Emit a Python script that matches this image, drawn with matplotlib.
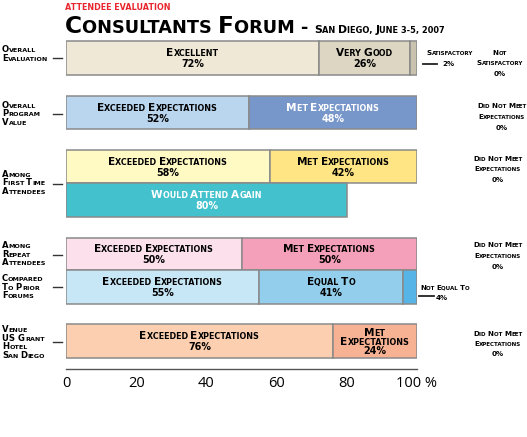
import matplotlib
matplotlib.use('Agg')
import matplotlib.pyplot as plt
from matplotlib.transforms import offset_copy, Affine2D
from matplotlib.lines import Line2D

# ---------------- data ----------------
eval_labels = ['Excellent', 'Very Good', 'Satisfactory', 'Not Satisfactory']
eval_values = [72, 26, 2, 0]
exp_labels = ['Exceeded Expectations', 'Met Expectations', 'Did Not Meet Expectations']
program_values = [52, 48, 0]
first_values = [58, 42, 0]
again_label = 'Would Attend Again'
again_value = 80
repeat_values = [50, 50, 0]
prior_labels = ['Exceeded Expectations', 'Equal To', 'Not Equal To']
prior_values = [55, 41, 4]
venue_values = [76, 24, 0]
row_labels = [['Overall', 'Evaluation'], ['Overall', 'Program', 'Value'],
              ['Among', 'First Time', 'Attendees'], ['Among', 'Repeat', 'Attendees'],
              ['Compared', 'To Prior', 'Forums'], ['Venue', 'US Grant', 'Hotel', 'San Diego']]
x_ticks = [0, 20, 40, 60, 80, 100]
x_ticklabels = ['0', '20', '40', '60', '80', '100 %']

FONT = 'DejaVu Sans'
W, H = 527, 437
fig = plt.figure(figsize=(W / 100, H / 100), dpi=100)
renderer = fig.canvas.get_renderer()
tr_px = Affine2D().scale(1, -1).translate(0, H)   # pixel coords from top-left


def _w(s, size, weight):
    t = fig.text(0, 0, '|' + s + '|', fontsize=size, fontweight=weight, family=FONT)
    w1 = t.get_window_extent(renderer).width
    t.set_text('||')
    w0 = t.get_window_extent(renderer).width
    t.remove()
    return w1 - w0


def _runs(s, small_digits=False):
    runs = []
    for ch in s:
        small = ch.islower() or (small_digits and ch.isdigit())
        if ch in ' ,-' and runs:
            small = runs[-1][1]
        if runs and runs[-1][1] == small:
            runs[-1][0] += ch
        else:
            runs.append([ch, small])
    return runs


def sc_width(s, size, weight='bold', ratio=0.76, small_digits=False):
    tot = 0
    for txt, small in _runs(s, small_digits):
        sz = size * ratio if small else size
        tot += _w(txt.upper(), sz, weight)
    return tot


def calib(s, target, weight='bold', ratio=0.76, small_digits=False):
    return 10 * target / sc_width(s, 10, weight, ratio, small_digits)


def sc_text(x, y, s, size, transform, ha='center', color='black', weight='bold',
            ratio=0.76, dy=0, small_digits=False):
    pieces = []
    for txt, small in _runs(s, small_digits):
        sz = size * ratio if small else size
        pieces.append((txt.upper(), sz, _w(txt.upper(), sz, weight)))
    total = sum(p[2] for p in pieces)
    start = {'center': -total / 2, 'left': 0, 'right': -total}[ha]
    cap = 0.73 * size * 100 / 72
    dx = start
    for txt, sz, w in pieces:
        tr = offset_copy(transform, fig=fig, x=dx, y=dy - cap / 2, units='dots')
        fig.text(x, y, txt, transform=tr, fontsize=sz, fontweight=weight, family=FONT,
                 color=color, ha='left', va='baseline')
        dx += w


def sc_lines(x, y, lines, size, transform, spacing, **kw):
    for i, ln in enumerate(lines):
        sc_text(x, y, ln, size, transform, dy=-i * spacing, **kw)


# calibrated sizes (matching the reference text widths)
BAR_SZ = calib('Exceeded Expectations', 119)
LEFT_SZ = calib('Evaluation', 46)
RIGHT_SZ = calib('Did Not Meet', 49)
PCT_SZ = BAR_SZ * 0.92

# ---------------- axes ----------------
ax = fig.add_axes([66 / W, (H - 369) / H, 351 / W, (369 - 30) / H])
ax.set_xlim(0, 100)
ax.set_ylim(369, 30)
for s in ['top', 'right', 'left']:
    ax.spines[s].set_visible(False)
ax.spines['bottom'].set_color('#555555')
ax.spines['bottom'].set_linewidth(1.0)
ax.set_yticks([])
ax.set_xticks(x_ticks)
ax.set_xticklabels(x_ticklabels, fontsize=10.5, family='Open Sans')
ax.tick_params(axis='x', which='major', length=0, pad=5)
ax.set_xticks([0, 100], minor=True)
ax.tick_params(axis='x', which='minor', length=5, direction='in', color='#555555', width=1.0)

EDGE = '#8a8a8a'


def draw_row(yc, h, values, colors, labels, txtcolors):
    left = 0
    for v, c, lab, tc in zip(values, colors, labels, txtcolors):
        if v <= 0:
            continue
        ax.barh(yc, v, left=left, height=h, color=c, edgecolor=EDGE, linewidth=1.1)
        if lab is not None:
            if isinstance(lab, list):
                sc_lines(left + v / 2, yc - 8.5, lab, BAR_SZ, ax.transData, 9.0, color=tc)
                sc_text(left + v / 2, yc + 9.5, f'{v}%', PCT_SZ, ax.transData, color=tc)
            else:
                sc_text(left + v / 2, yc - 5.5, lab, BAR_SZ, ax.transData, color=tc)
                sc_text(left + v / 2, yc + 5.5, f'{v}%', PCT_SZ, ax.transData, color=tc)
        left += v


# Row 1
draw_row(58, 34, eval_values, ['#efe8d6', '#dcd6c3', '#c9c2ae'],
         [eval_labels[0], eval_labels[1], None], ['black'] * 3)
# Row 2
draw_row(112.5, 33, program_values, ['#bad5ee', '#7797cb'],
         exp_labels[:2], ['black', 'white'])
# Row 3
draw_row(166.5, 33, first_values, ['#fff9c4', '#ffe584'], exp_labels[:2], ['black', 'black'])
draw_row(200, 34, [again_value], ['#43c1cc'], [again_label], ['white'])
# Row 4
draw_row(254, 32, repeat_values, ['#fce1ec', '#f5a0ba'], exp_labels[:2], ['black', 'black'])
draw_row(287, 34, prior_values, ['#c7e6f6', '#93ceec', '#57b4e6'],
         [prior_labels[0], prior_labels[1], None], ['black'] * 3)
# Row 5
draw_row(341, 34, venue_values, ['#fccfb0', '#f7b193'],
         [exp_labels[0], ['Met', 'Expectations']], ['black', 'black'])

# ---------------- titles ----------------
sc_text(65, 7, 'ATTENDEE EVALUATION', calib('ATTENDEE EVALUATION', 106), tr_px,
        ha='left', color='#e8262d')
sc_text(65, 25, 'Consultants Forum -', calib('Consultants Forum -', 242), tr_px, ha='left')
sc_text(314, 29.5, 'San Diego, June 3-5, 2007',
        calib('San Diego, June 3-5, 2007', 131, small_digits=True),
        tr_px, ha='left', small_digits=True)

# ---------------- left labels ----------------
left_specs = [(49, 58), (104.5, 114), (173.5, 184), (245, 255), (278, 287), (329, 342)]
for lines, (y0, yd) in zip(row_labels, left_specs):
    sc_lines(2, y0, lines, LEFT_SZ, tr_px, 8.6, ha='left')
    fig.add_artist(Line2D([53, 62], [yd, yd], transform=tr_px, color='#333333', lw=1.0))

# ---------------- right labels ----------------
sc_lines(500, 52, ['Not', 'Satisfactory'], RIGHT_SZ, tr_px, 10.5)
sc_text(500, 73, f'{eval_values[3]}%', RIGHT_SZ, tr_px)
sc_text(450, 52, eval_labels[2], RIGHT_SZ, tr_px)
sc_text(448, 63, f'{eval_values[2]}%', RIGHT_SZ, tr_px)
fig.add_artist(Line2D([423, 437], [64, 64], transform=tr_px, color='#222222', lw=1.3))

dnm = ['Did Not Meet', 'Expectations']
sc_lines(502, 105, dnm + [f'{program_values[2]}%'], RIGHT_SZ, tr_px, 11)
sc_lines(498, 158, dnm + [f'{first_values[2]}%'], RIGHT_SZ, tr_px, 10.5)
sc_lines(498, 244, dnm + [f'{repeat_values[2]}%'], RIGHT_SZ, tr_px, 11)
sc_lines(498, 333, dnm + [f'{venue_values[2]}%'], RIGHT_SZ, tr_px, 10)

sc_text(445, 287, prior_labels[2], RIGHT_SZ, tr_px)
sc_text(442, 297, f'{prior_values[2]}%', RIGHT_SZ, tr_px)
fig.add_artist(Line2D([419, 434], [296, 296], transform=tr_px, color='#222222', lw=1.3))

fig.savefig('out.png', dpi=100)
